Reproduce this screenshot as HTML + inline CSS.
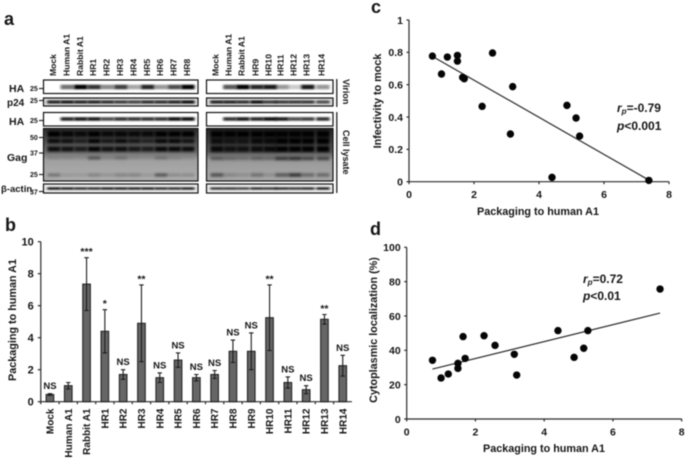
<!DOCTYPE html>
<html>
<head>
<meta charset="utf-8">
<style>
html,body{margin:0;padding:0;background:#fff;width:685px;height:462px;overflow:hidden}
svg{display:block;filter:blur(0.45px)}
text{font-family:"Liberation Sans",sans-serif;font-weight:bold;fill:#151515}
</style>
</head>
<body>
<svg id="fig" width="685" height="462" viewBox="0 0 685 462" xmlns="http://www.w3.org/2000/svg">
<defs>
<filter id="b1" x="-30%" y="-150%" width="160%" height="400%"><feGaussianBlur stdDeviation="1.2 0.9"/></filter>
<filter id="b2" x="-30%" y="-100%" width="160%" height="300%"><feGaussianBlur stdDeviation="1.2 1.3"/></filter>
<linearGradient id="gagLeft" x1="0" y1="0" x2="0" y2="1">
<stop offset="0" stop-color="#303030"/><stop offset=".45" stop-color="#6e6e6e"/><stop offset=".6" stop-color="#a0a0a0"/><stop offset="1" stop-color="#aeaeae"/>
</linearGradient>
<linearGradient id="gagRight" x1="0" y1="0" x2="0" y2="1">
<stop offset="0" stop-color="#262626"/><stop offset=".45" stop-color="#5a5a5a"/><stop offset=".6" stop-color="#999"/><stop offset="1" stop-color="#aaa"/>
</linearGradient>
<clipPath id="clipL"><rect x="43" y="78" width="155" height="116"/></clipPath>
<clipPath id="clipR"><rect x="206" y="78" width="127" height="116"/></clipPath>
</defs>
<g id="panelA"></g>
<g id="panelB"></g>
<g id="panelC"></g>
<g id="panelD"></g>
</svg>
<script>
// ---------- Panel b data ----------
const barCategories = ['Mock','Human A1','Rabbit A1','HR1','HR2','HR3','HR4','HR5','HR6','HR7','HR8','HR9','HR10','HR11','HR12','HR13','HR14'];
const barValues = [0.45,1.0,7.35,4.4,1.7,4.9,1.5,2.6,1.5,1.7,3.15,3.15,5.25,1.2,0.75,5.15,2.25];
const barErrors = [0.05,0.2,1.65,1.35,0.3,2.4,0.3,0.45,0.2,0.25,0.7,1.15,2.05,0.35,0.25,0.3,0.65];
const barSignificance = ['NS','','***','*','NS','**','NS','NS','NS','NS','NS','NS','**','NS','NS','**','NS'];
const barTicks = [0,2,4,6,8,10];

// ---------- Panel c data ----------
const cPackaging = [0.72,1.0,1.18,1.49,1.49,1.65,1.70,2.25,2.57,3.12,3.19,4.40,4.86,5.14,5.25,7.38];
const cInfectivity = [0.777,0.666,0.771,0.781,0.746,0.645,0.637,0.466,0.796,0.295,0.588,0.027,0.472,0.394,0.282,0.008];
const cFitX = [0.72,7.38];
const cFitY = [0.775,0.01];
const cXTicks = [0,2,4,6,8];
const cYTicks = [0,0.2,0.4,0.6,0.8,1];

// ---------- Panel d data ----------
const dPackaging = [0.75,1.0,1.21,1.49,1.49,1.64,1.70,2.25,2.57,3.13,3.2,4.40,4.87,5.15,5.27,7.37];
const dCytoplasmic = [34.2,23.9,26.2,32.4,29.5,48,35.3,48.5,42.9,37.7,25.6,51.5,35.9,41.2,51.5,75.7];
const dFitX = [0.75,7.37];
const dFitY = [29.1,61.7];
const dXTicks = [0,2,4,6,8];
const dYTicks = [0,20,40,60,80,100];

// ---------- Panel a data (band intensities per lane) ----------
const laneNamesLeft = ['Mock','Human A1','Rabbit A1','HR1','HR2','HR3','HR4','HR5','HR6','HR7','HR8'];
const laneNamesRight = ['Mock','Human A1','Rabbit A1','HR9','HR10','HR11','HR12','HR13','HR14'];
const virionHALeft = [0,0.55,1,0.8,0.45,0.75,0.35,0.85,0.4,0.7,1];
const virionHARight = [0,0.65,1,0.85,0.9,0.4,0.2,0.9,0.4];
const p24Left = [0.85,0.9,0.85,0.85,0.8,0.75,0.7,0.8,0.8,0.85,0.95];
const p24Right = [0.85,0.85,0.8,0.95,0.75,0.75,0.75,0.75,0.65];
const cellHALeft = [0,0.85,0.9,0.9,0.7,0.8,0.8,0.8,0.8,0.95,0.95];
const cellHARight = [0,0.8,0.9,0.85,0.95,0.9,0.7,0.75,0.8];
const gag50Left = [1,0.9,0.85,1,0.85,0.9,0.85,0.85,1,1,1];
const gag50Right = [1,0.95,1,1,1,1,1,1,1];
const gag45Left = [0.9,0.85,0.65,1,0.75,0.9,0.75,0.6,0.95,0.95,0.8];
const gag45Right = [0.8,0.7,0.7,0.85,0.85,1,1,1,1];
const gag40Left = [0.9,0.85,0.75,1,0.85,0.9,0.8,0.75,0.95,0.95,0.9];
const gag40Right = [0.9,0.8,0.8,0.85,0.9,1,1,1,1];
const gag33Left = [0.12,0.12,0.08,0.5,0.15,0.3,0.1,0.08,0.3,0.15,0.08];
const gag33Right = [0.4,0.3,0.25,0.35,0.3,0.65,0.7,0.55,0.55];
const gag25Left = [0.35,0.12,0.1,0.25,0.15,0.25,0.25,0.12,0.55,0.2,0.2];
const gag25Right = [0.55,0.2,0.15,0.35,0.15,0.5,0.75,0.4,0.4];
const actinLeft = [0.95,0.9,0.85,0.85,0.9,0.9,0.9,0.9,0.85,0.85,0.9];
const actinRight = [0.8,0.8,0.75,0.85,0.8,0.85,0.8,0.85,0.9];

const NS = 'http://www.w3.org/2000/svg';
function mk(parent, tag, attrs, txt){
  const e = document.createElementNS(NS, tag);
  for (const k in attrs) e.setAttribute(k, attrs[k]);
  if (txt !== undefined) e.textContent = txt;
  parent.appendChild(e);
  return e;
}
function label(parent, name, x, y, size, txt, anchor, rot){
  const a = {x:x, y:y, 'font-size':size, 'text-anchor':anchor||'start'};
  if (rot) a.transform = 'rotate('+rot+' '+x+' '+y+')';
  const t = mk(parent,'text',a,txt);
  
  
  return t;
}
function axisLine(parent, name, x1, y1, x2, y2){
  const l = mk(parent,'line',{x1:x1,y1:y1,x2:x2,y2:y2,stroke:'#2a2a2a','stroke-width':1.2});
  
  
  return l;
}

// ---------- Panel A ----------
(function(){
  const g = document.getElementById('panelA');
  label(g,'panel-a-label',4,25,18,'a');
  const lanesL = laneNamesLeft.map((_,i)=>54+i*13.4);
  const lanesR = [217,230,243,257,270,282,295,308,323];
  laneNamesLeft.forEach((n,i)=>label(g,'lane-label',lanesL[i]+2,76,8.6,n,'start',-90));
  laneNamesRight.forEach((n,i)=>label(g,'lane-label',lanesR[i]+1.5,76,8.6,n,'start',-90));

  const rows = [
    {name:'virion-ha',top:80,h:13.5,y:87,th:4.6,l:virionHALeft,r:virionHARight,bg:'#fff'},
    {name:'p24',top:98,h:8,y:102,th:3.2,l:p24Left,r:p24Right,bg:'#ddd'},
    {name:'cell-ha',top:112.5,h:13.5,y:119,th:3.6,l:cellHALeft,r:cellHARight,bg:'#fff'},
    {name:'actin',top:184,h:9,y:188.5,th:2.4,l:actinLeft,r:actinRight,bg:'#eee'}
  ];
  const sides = [
    {key:'l',x:43.5,w:154.5,lanes:lanesL,clip:'clipL'},
    {key:'r',x:206.5,w:126.5,lanes:lanesR,clip:'clipR'}
  ];
  sides.forEach(s=>{
    const clip = mk(g,'g',{'clip-path':'url(#'+s.clip+')'});
    rows.forEach(r=>{
      const panel = mk(clip,'rect',{x:s.x,y:r.top,width:s.w,height:r.h,fill:r.bg});
      
      
      r[s.key].forEach((v,i)=>{
        if (!v) return;
        const b = mk(clip,'rect',{x:s.lanes[i]-6.8,y:r.y-r.th/2,width:13.4,height:r.th,fill:'#000',opacity:v,filter:'url(#b1)'});
        
        
      });
    });
    // Gag panel
    const gag = mk(clip,'rect',{x:s.x,y:128.5,width:s.w,height:52.5,fill:s.key==='l'?'url(#gagLeft)':'url(#gagRight)'});
    
    
    const sets = s.key==='l'
      ? [[gag50Left,134,6],[gag45Left,141,4.5],[gag40Left,149,5],[gag33Left,158,2.8],[gag25Left,175,3]]
      : [[gag50Right,134,6.5],[gag45Right,141,6.5],[gag40Right,149,6],[gag33Right,158.5,3.4],[gag25Right,175,3.4]];
    sets.forEach(st=>{
      st[0].forEach((v,i)=>{
        const b = mk(clip,'rect',{x:s.lanes[i]-6.4,y:st[1]-st[2]/2,width:12.8,height:st[2],fill:'#000',opacity:v,filter:'url(#b2)'});
        
        
      });
    });
    rows.concat([{top:128.5,h:52.5}]).forEach(r=>{
      const f = mk(g,'rect',{x:s.x,y:r.top,width:s.w,height:r.h,fill:'none',stroke:'#111','stroke-width':1.2});
      
      
    });
  });
  label(g,'ha-virion-label',9,92,10.5,'HA');
  label(g,'p24-label',7,106,10,'p24');
  label(g,'ha-lysate-label',9,125,10.5,'HA');
  label(g,'gag-label',7,161,10.5,'Gag');
  label(g,'beta-actin-label',1,192,9.5,'β-actin');
  const markers = [['25',88.5,30],['25',100.5,30],['25',120.5,30],['50',137.5,30],['37',153,30],['25',174.5,30]];
  markers.forEach(m=>{
    label(g,'kda-marker',m[2],m[1]+2.5,7,m[0]);
    axisLine(g,'kda-tick',39,m[1],43,m[1]);
  });
  label(g,'kda-marker',30,194.5,7,'37');
  axisLine(g,'kda-tick',39,191.5,43,191.5);
  const v1 = mk(g,'line',{x1:336.8,y1:79,x2:336.8,y2:107,stroke:'#111','stroke-width':1.2});
  
  
  const v2 = mk(g,'line',{x1:336.8,y1:112,x2:336.8,y2:193,stroke:'#111','stroke-width':1.2});
  
  
  label(g,'virion-label',343,79,9,'Virion','start',90);
  label(g,'cell-lysate-label',343,130,9,'Cell lysate','start',90);
})();

// ---------- Panel B ----------
(function(){
  const g = document.getElementById('panelB');
  label(g,'panel-b-label',5,231,18,'b');
  const y0 = 401.7, y10 = 241.7, x0 = 40.8, step = 18.3;
  const Y = v => y0 - (v/10)*(y0-y10);
  const X = i => x0 + step*(i+0.5);
  axisLine(g,'y-axis',x0,y10,x0,y0);
  axisLine(g,'x-axis',x0,y0,x0+step*barCategories.length,y0);
  barTicks.forEach(t=>{
    axisLine(g,'y-tick',x0-3,Y(t),x0,Y(t));
    label(g,'y-tick-label',x0-7,Y(t)+4,11,String(t),'end');
  });
  barCategories.forEach((c,i)=>{
    axisLine(g,'x-tick',x0+step*i,y0,x0+step*i,y0+2.5);
    const top = Y(barValues[i]);
    const bar = mk(g,'rect',{x:X(i)-3.8,y:top,width:7.6,height:y0-top,fill:'#666',stroke:'#252525','stroke-width':1.1});
    
    
    const hi = Y(barValues[i]+barErrors[i]), lo = Y(barValues[i]-barErrors[i]);
    const err = mk(g,'path',{d:'M'+X(i)+' '+lo+'V'+hi+'M'+(X(i)-2.2)+' '+hi+'H'+(X(i)+2.2)+'M'+(X(i)-2.2)+' '+lo+'H'+(X(i)+2.2),fill:'none',stroke:'#1c1c1c','stroke-width':1.1});
    
    
    const s = barSignificance[i];
    if (s==='NS') label(g,'significance-label',X(i),hi-4.5,9.5,s,'middle');
    else if (s) label(g,'significance-label',X(i),hi-2.5,10.5,s,'middle');
    label(g,'x-tick-label',X(i)+3.5,408.5,10,c,'end',-90);
  });
  label(g,'y-axis-title',16,320,10.8,'Packaging to human A1','middle',-90);
})();

// ---------- Scatter helper ----------
function scatter(g, o){
  const X = v => o.x0 + (v-o.xMin)/(o.xMax-o.xMin)*(o.x1-o.x0);
  const Y = v => o.y0 - (v-o.yMin)/(o.yMax-o.yMin)*(o.y0-o.y1);
  axisLine(g,'y-axis',o.x0,o.y1,o.x0,o.y0);
  axisLine(g,'x-axis',o.x0,o.y0,o.x1,o.y0);
  o.xTicks.forEach(t=>{
    axisLine(g,'x-tick',X(t),o.y0,X(t),o.y0+2.5);
    label(g,'x-tick-label',X(t),o.y0+16.5,10.5,String(t),'middle');
  });
  o.yTicks.forEach(t=>{
    axisLine(g,'y-tick',o.x0-2.5,Y(t),o.x0,Y(t));
    label(g,'y-tick-label',o.x0-6,Y(t)+3.8,10.5,String(t),'end');
  });
  const fit = mk(g,'line',{x1:X(o.fitX[0]),y1:Y(o.fitY[0]),x2:X(o.fitX[1]),y2:Y(o.fitY[1]),stroke:'#2a2a2a','stroke-width':1.2});
  
  
  o.xs.forEach((v,i)=>{
    const c = mk(g,'circle',{cx:X(v),cy:Y(o.ys[i]),r:3.7,fill:'#050505'});
    
    
  });
}
function stat(g, nameR, nameP, x, yR, yP, rTxt, pTxt){
  const t = mk(g,'text',{x:x,y:yR,'font-size':12});
  
  
  mk(t,'tspan',{'font-style':'italic'},'r');
  mk(t,'tspan',{'font-style':'italic','font-size':8,dy:2},'p');
  mk(t,'tspan',{dy:-2},rTxt);
  const p = mk(g,'text',{x:x,y:yP,'font-size':12});
  
  
  mk(p,'tspan',{'font-style':'italic'},'p');
  mk(p,'tspan',{},pTxt);
}

// ---------- Panel C ----------
(function(){
  const g = document.getElementById('panelC');
  label(g,'panel-c-label',371,13,18,'c');
  scatter(g,{x0:409,x1:669,y0:181.7,y1:20,xMin:0,xMax:8,yMin:0,yMax:1,xTicks:cXTicks,yTicks:cYTicks,xs:cPackaging,ys:cInfectivity,fitX:cFitX,fitY:cFitY});
  label(g,'x-axis-title',538,215,10.8,'Packaging to human A1','middle');
  label(g,'y-axis-title',381,101,10.8,'Infectivity to mock','middle',-90);
  stat(g,'correlation-label','p-value-label',617,112,130,'=-0.79','<0.001');
})();

// ---------- Panel D ----------
(function(){
  const g = document.getElementById('panelD');
  label(g,'panel-d-label',370,235,18,'d');
  scatter(g,{x0:406.7,x1:681.7,y0:419,y1:247.3,xMin:0,xMax:8,yMin:0,yMax:100,xTicks:dXTicks,yTicks:dYTicks,xs:dPackaging,ys:dCytoplasmic,fitX:dFitX,fitY:dFitY});
  label(g,'x-axis-title',544,452,10.8,'Packaging to human A1','middle');
  label(g,'y-axis-title',377,330,10.8,'Cytoplasmic localization (%)','middle',-90);
  stat(g,'correlation-label','p-value-label',583,283,300,'=0.72','<0.01');
})();
</script>
</body>
</html>
